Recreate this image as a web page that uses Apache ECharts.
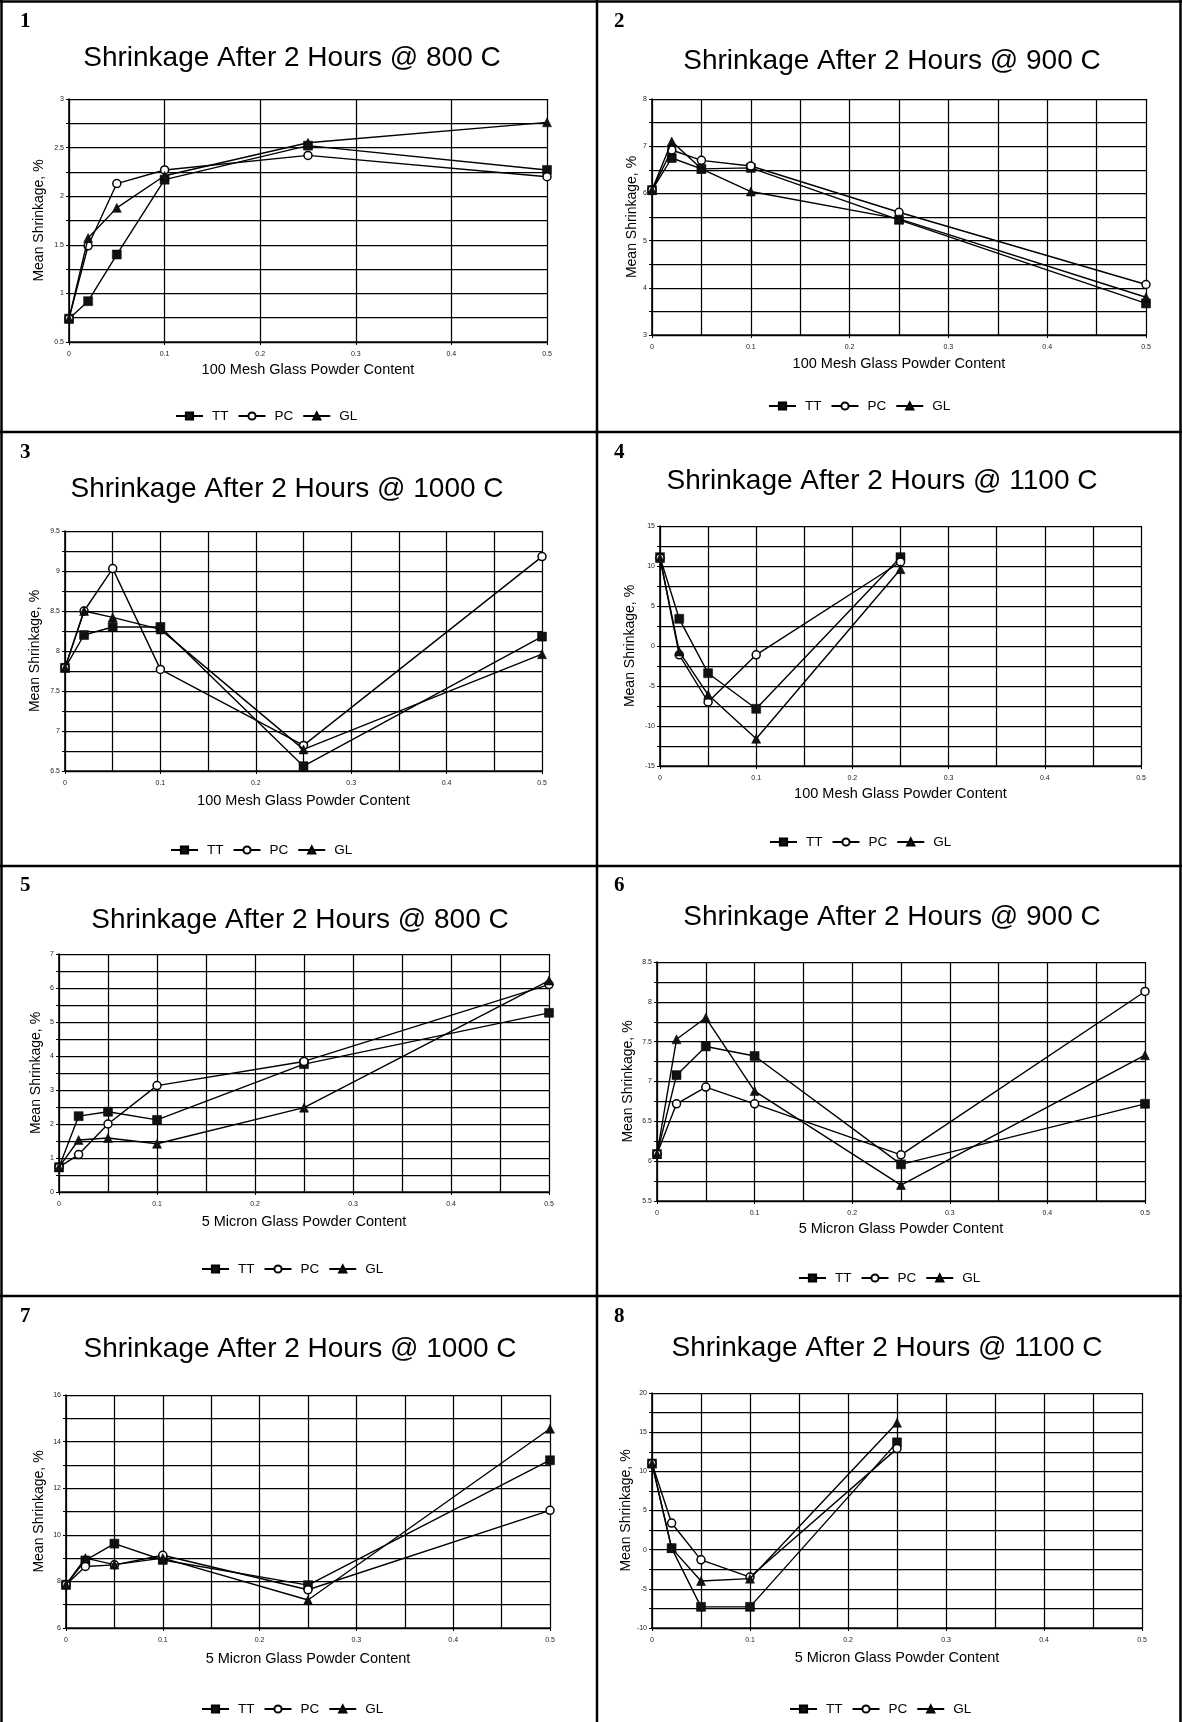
<!DOCTYPE html>
<html><head><meta charset="utf-8">
<script src="https://cdn.jsdelivr.net/npm/echarts@6/dist/echarts.min.js"></script>
<style>html,body{margin:0;padding:0;background:#fff}#c{width:1182px;height:1722px}</style>
</head><body><div id="c"></div>
<script>
// ---------------- data ----------------
const glassContent = [0, 0.02, 0.05, 0.1, 0.25, 0.5];
const glassContent1100 = [0, 0.02, 0.05, 0.1, 0.25];
const seriesNames = ['TT', 'PC', 'GL'];

const p1TT = [0.74, 0.92, 1.40, 2.17, 2.52, 2.27];
const p1PC = [0.74, 1.49, 2.13, 2.27, 2.42, 2.20];
const p1GL = [0.74, 1.57, 1.88, 2.21, 2.55, 2.76];

const p2TT = [6.07, 6.75, 6.52, 6.54, 5.44, 3.67];
const p2PC = [6.07, 6.92, 6.70, 6.58, 5.60, 4.07];
const p2GL = [6.07, 7.10, 6.52, 6.04, 5.46, 3.80];

const p3TT = [7.79, 8.20, 8.30, 8.30, 6.56, 8.18];
const p3PC = [7.79, 8.50, 9.03, 7.77, 6.82, 9.18];
const p3GL = [7.79, 8.50, 8.42, 8.27, 6.77, 7.96];

const p4TT = [11.1, 3.4, -3.4, -7.85, 11.1];
const p4PC = [11.0, -1.1, -7.0, -1.1, 10.5];
const p4GL = [11.0, -0.7, -6.1, -11.6, 9.6];

const p5TT = [0.73, 2.23, 2.36, 2.12, 3.76, 5.27];
const p5PC = [0.73, 1.10, 2.00, 3.13, 3.84, 6.10];
const p5GL = [0.73, 1.53, 1.59, 1.42, 2.48, 6.22];

const p6TT = [6.09, 7.08, 7.44, 7.32, 5.96, 6.72];
const p6PC = [6.09, 6.72, 6.93, 6.72, 6.08, 8.13];
const p6GL = [6.09, 7.53, 7.80, 6.88, 5.70, 7.33];

const p7TT = [7.86, 8.90, 9.62, 8.92, 7.84, 13.2];
const p7PC = [7.86, 8.64, 8.71, 9.12, 7.64, 11.05];
const p7GL = [7.86, 9.00, 8.72, 9.00, 7.20, 14.55];

const p8TT = [11.0, 0.2, -7.3, -7.3, 13.7];
const p8PC = [11.0, 3.4, -1.3, -3.5, 12.9];
const p8GL = [11.0, 0.2, -4.0, -3.7, 16.2];

const panelTitles = [
  'Shrinkage After 2 Hours @ 800 C', 'Shrinkage After 2 Hours @ 900 C',
  'Shrinkage After 2 Hours @ 1000 C', 'Shrinkage After 2 Hours @ 1100 C',
  'Shrinkage After 2 Hours @ 800 C', 'Shrinkage After 2 Hours @ 900 C',
  'Shrinkage After 2 Hours @ 1000 C', 'Shrinkage After 2 Hours @ 1100 C'
];
const xAxisNames = [
  '100 Mesh Glass Powder Content', '100 Mesh Glass Powder Content',
  '100 Mesh Glass Powder Content', '100 Mesh Glass Powder Content',
  '5 Micron Glass Powder Content', '5 Micron Glass Powder Content',
  '5 Micron Glass Powder Content', '5 Micron Glass Powder Content'
];
const yAxisName = 'Mean Shrinkage, %';
const panelNumbers = ['1', '2', '3', '4', '5', '6', '7', '8'];
// y axis scale: [min, max, interval]
const yScales = [[0.5, 3, 0.5], [3, 8, 1], [6.5, 9.5, 0.5], [-15, 15, 5],
                 [0, 7, 1], [5.5, 8.5, 0.5], [6, 16, 2], [-10, 20, 5]];
const xScale = [0, 0.5, 0.1];

const panelData = [
  [glassContent, p1TT, p1PC, p1GL], [glassContent, p2TT, p2PC, p2GL],
  [glassContent, p3TT, p3PC, p3GL], [glassContent1100, p4TT, p4PC, p4GL],
  [glassContent, p5TT, p5PC, p5GL], [glassContent, p6TT, p6PC, p6GL],
  [glassContent, p7TT, p7PC, p7GL], [glassContent1100, p8TT, p8PC, p8GL]
];

// ---------------- layout ----------------
const layout = [
  {g:[69, 99, 478, 243],  t:[287, 39],   l:[170, 404],  xg:20, yg:23, xMinor:false, n:[20, 11]},
  {g:[652, 99, 494, 236], t:[887, 42],   l:[763, 394],  xg:21, yg:12, xMinor:true,  n:[614, 11]},
  {g:[65, 531, 477, 240], t:[282, 470],  l:[165, 838],  xg:22, yg:23, xMinor:true,  n:[20, 442]},
  {g:[660, 526, 481, 240],t:[877, 462],  l:[764, 830],  xg:20, yg:23, xMinor:true,  n:[614, 442]},
  {g:[59, 954, 490, 238], t:[295, 901],  l:[196, 1257], xg:22, yg:16, xMinor:true,  n:[20, 875]},
  {g:[657, 962, 488, 239],t:[887, 898],  l:[793, 1266], xg:20, yg:22, xMinor:true,  n:[614, 875]},
  {g:[66, 1395, 484, 233],t:[295, 1330], l:[196, 1697], xg:23, yg:20, xMinor:true,  n:[20, 1306]},
  {g:[652, 1393, 490, 235],t:[882, 1329],l:[784, 1697], xg:22, yg:19, xMinor:true,  n:[614, 1306]}
];

const FONT = '"Liberation Sans", Arial, Helvetica, sans-serif';
const gridLine = {color: '#000', width: 1.25};
const symbols = ['rect', 'circle', 'triangle'];

const option = {
  animation: false,
  backgroundColor: '#fff',
  title: [], legend: [], grid: [], xAxis: [], yAxis: [], series: [],
  graphic: []
};

layout.forEach((L, i) => {
  option.title.push({
    text: panelTitles[i], left: L.t[0], top: L.t[1], textAlign: 'center',
    textStyle: {fontFamily: FONT, fontSize: 28, fontWeight: 'normal', color: '#000'}
  });
  option.grid.push({left: L.g[0], top: L.g[1], width: L.g[2], height: L.g[3], containLabel: false});
  option.legend.push({
    data: seriesNames, left: L.l[0], top: L.l[1], orient: 'horizontal',
    itemWidth: 27, itemHeight: 9, itemGap: 9, selectedMode: false,
    textStyle: {fontFamily: FONT, fontSize: 13.5, color: '#000', padding: [0, 0, 0, 4]}
  });
  option.xAxis.push({
    type: 'value', gridIndex: i, min: xScale[0], max: xScale[1], interval: xScale[2],
    name: xAxisNames[i], nameLocation: 'middle', nameGap: L.xg,
    nameTextStyle: {fontFamily: FONT, fontSize: 14.5, color: '#000'},
    axisLine: {show: true, onZero: false, lineStyle: {color: '#000', width: 1.6}},
    axisTick: {show: true, length: 3, lineStyle: {color: '#000'}},
    axisLabel: {fontFamily: FONT, fontSize: 7, color: '#222', margin: 9},
    splitLine: {show: true, lineStyle: gridLine},
    minorTick: {show: false, splitNumber: 2},
    minorSplitLine: {show: L.xMinor, lineStyle: gridLine}
  });
  const ys = yScales[i];
  option.yAxis.push({
    type: 'value', gridIndex: i, min: ys[0], max: ys[1], interval: ys[2],
    name: yAxisName, nameLocation: 'middle', nameGap: L.yg, nameRotate: 90,
    nameTextStyle: {fontFamily: FONT, fontSize: 14, color: '#000'},
    axisLine: {show: true, onZero: false, lineStyle: {color: '#000', width: 1.6}},
    axisTick: {show: true, length: 3, lineStyle: {color: '#000'}},
    axisLabel: {fontFamily: FONT, fontSize: 7, color: '#222', margin: 5},
    splitLine: {show: true, lineStyle: gridLine},
    minorTick: {show: true, splitNumber: 2, length: 3, lineStyle: {color: '#000'}},
    minorSplitLine: {show: true, lineStyle: gridLine}
  });
  const d = panelData[i];
  const xs = d[0];
  for (let s = 0; s < 3; s++) {
    const vals = d[s + 1];
    option.series.push({
      type: 'line', name: seriesNames[s], xAxisIndex: i, yAxisIndex: i,
      data: xs.map((x, k) => [x, vals[k]]),
      symbol: symbols[s], symbolSize: s === 1 ? 8 : 9, showSymbol: true,
      lineStyle: {color: '#000', width: 1.4},
      itemStyle: s === 1 ? {color: '#fff', borderColor: '#000', borderWidth: 1.5}
                         : {color: '#111', borderColor: '#000', borderWidth: 0.5},
      z: 3 + s
    });
  }
  option.graphic.push({
    type: 'text', left: L.n[0], top: L.n[1],
    style: {text: panelNumbers[i], font: 'bold 21px "Liberation Serif", "Times New Roman", serif', fill: '#000'}
  });
});

// panel borders
const bw = 2.5;
[[1.5, 0, 1.5, 1722], [1180.5, 0, 1180.5, 1722], [0, 1.5, 1182, 1.5], [597, 0, 597, 1722],
 [0, 432, 1182, 432], [0, 866, 1182, 866], [0, 1296, 1182, 1296]].forEach(s => {
  option.graphic.push({type: 'line', shape: {x1: s[0], y1: s[1], x2: s[2], y2: s[3]},
    style: {stroke: '#000', lineWidth: bw}, z: 100});
});

const chart = echarts.init(document.getElementById('c'), null, {renderer: 'canvas'});
chart.setOption(option);
</script>
</body></html>
